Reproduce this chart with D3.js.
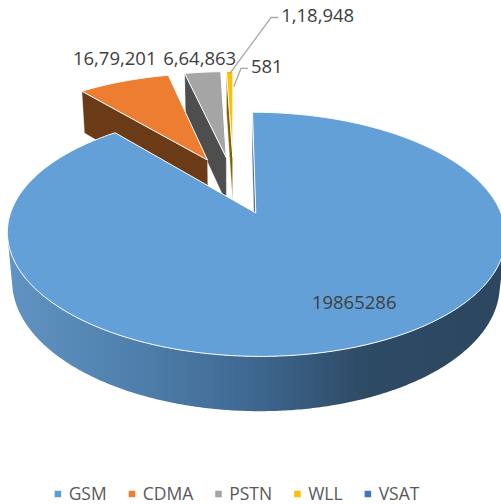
<!DOCTYPE html>
<html>
<head>
<meta charset="utf-8">
<script src="https://cdn.jsdelivr.net/npm/d3@7"></script>
<style>
  body { margin: 0; background: #fff; }
  svg { display: block; }
</style>
</head>
<body>
<svg id="chart" width="501" height="504"></svg>
<script>
  var width = 501, height = 504

  // data
  var categories = ["GSM", "CDMA", "PSTN", "WLL", "VSAT"]
  var values = [19865286, 1679201, 664863, 118948, 581]
  var labelText = ["19865286", "16,79,201", "6,64,863", "1,18,948", "581"]
  var topColors = ["#62a0d7", "#ed7d31", "#a5a5a5", "#ffc000", "#4472c4"]
  var legendColors = ["#5b9bd5", "#ed7d31", "#a5a5a5", "#ffc000", "#4472c4"]
  var sideColors = ["#3d6a93", "#6b3b17", "#4e4e4e", "#7f6000", "#22395f"]

  // 3d look (all tuned by eye)
  var cx = 233.8, cy = 184.8
  var R = 235, depth = 54, explode = 62
  var tilt = Math.asin(0.4625), dist = 1242
  var sinP = Math.sin(tilt), cosP = Math.cos(tilt)
  var cam = [0, dist * sinP, -dist * cosP]

  // label layout: outside labels sit relative to the rim middle of their slice
  var labelDx = [0, -9, -3, 88, 33]
  var labelDy = [0, -23, -14, -56, -5]
  var leaderR = [0, 0, 0, 0.97, 0.8]

  function proj(p) {
    var X = p[0], Y = p[1], Z = p[2]
    var w = Z * cosP - Y * sinP
    var s = dist / (dist + w)
    return [cx + X * s, cy - (Z * sinP + Y * cosP) * s]
  }

  var pie = d3.pie().sort(null).value(function(d) { return d })
  var arcs = pie(values).map(function(a, i) {
    var mid = (a.startAngle + a.endAngle) / 2
    a.i = i
    a.mid = mid
    a.ox = explode * Math.sin(mid)
    a.oz = explode * Math.cos(mid)
    return a
  })

  function pt(a, r, th, Y) {
    return [a.ox + r * Math.sin(th), Y, a.oz + r * Math.cos(th)]
  }
  function facing(p, n) {
    return (cam[0] - p[0]) * n[0] + (cam[1] - p[1]) * n[1] + (cam[2] - p[2]) * n[2] > 0
  }
  function arcAngles(a) {
    var n = Math.max(2, Math.ceil((a.endAngle - a.startAngle) / (Math.PI / 360)))
    return d3.range(n + 1).map(function(k) {
      return a.startAngle + (a.endAngle - a.startAngle) * k / n
    })
  }
  var line = d3.line()
  function poly(pts) { return line(pts.map(proj)) + "Z" }

  var svg = d3.select("#chart")
  var defs = svg.append("defs")
  var grad = defs.append("linearGradient")
    .attr("id", "gsmSide")
    .attr("gradientUnits", "userSpaceOnUse")
    .attr("x1", 10).attr("x2", 501).attr("y1", 0).attr("y2", 0)
  grad.append("stop").attr("offset", "0%").attr("stop-color", "#6193c2")
  grad.append("stop").attr("offset", "25%").attr("stop-color", "#4f80ad")
  grad.append("stop").attr("offset", "50%").attr("stop-color", "#3e6790")
  grad.append("stop").attr("offset", "72%").attr("stop-color", "#2e4b66")
  grad.append("stop").attr("offset", "100%").attr("stop-color", "#2c475f")

  var g = svg.append("g")

  // far slices first
  var order = arcs.slice().sort(function(a, b) { return Math.cos(b.mid) - Math.cos(a.mid) })

  order.forEach(function(a) {
    var sg = g.append("g").attr("class", "slice " + categories[a.i])
    var apexT = [a.ox, 0, a.oz], apexB = [a.ox, -depth, a.oz]

    // radial faces
    var faces = [
      { th: a.startAngle, n: [-Math.cos(a.startAngle), 0, Math.sin(a.startAngle)] },
      { th: a.endAngle, n: [Math.cos(a.endAngle), 0, -Math.sin(a.endAngle)] }
    ]
    faces.forEach(function(f) {
      if (!facing(apexT, f.n)) return
      sg.append("path")
        .attr("d", poly([apexT, pt(a, R, f.th, 0), pt(a, R, f.th, -depth), apexB]))
        .attr("fill", sideColors[a.i])
        .attr("stroke", "#fff").attr("stroke-opacity", 0.5).attr("stroke-width", 0.6)
    })

    // outer rim, only the part turned to the viewer
    var ths = arcAngles(a)
    var runs = [], cur = null
    ths.forEach(function(th) {
      var p = pt(a, R, th, 0)
      var ok = facing(p, [Math.sin(th), 0, Math.cos(th)])
      if (ok) { if (!cur) { cur = []; runs.push(cur) } cur.push(th) } else cur = null
    })
    runs.forEach(function(run) {
      if (run.length < 2) return
      var top = run.map(function(th) { return pt(a, R, th, 0) })
      var bot = run.slice().reverse().map(function(th) { return pt(a, R, th, -depth) })
      sg.append("path")
        .attr("d", poly(top.concat(bot)))
        .attr("fill", a.i === 0 ? "url(#gsmSide)" : sideColors[a.i])
    })

    // top face
    var topPts = [apexT].concat(ths.map(function(th) { return pt(a, R, th, 0) }))
    sg.append("path")
      .attr("d", poly(topPts))
      .attr("fill", topColors[a.i])
      .attr("stroke", "#fff").attr("stroke-width", 1).attr("stroke-linejoin", "round")
  })

  // data labels
  var lab = svg.append("g")
    .attr("font-family", "'Open Sans', 'Liberation Sans', sans-serif")
    .attr("font-size", 18.5)
    .attr("fill", "#404040")

  arcs.forEach(function(a) {
    if (a.i === 0) {
      // inside label on the big slice
      var p = proj(pt(a, 0.75 * R, 2.665, 0))
      lab.append("text").attr("x", p[0]).attr("y", p[1])
        .attr("text-anchor", "middle").attr("dy", "0.35em")
        .text(labelText[a.i])
      return
    }
    var anchor = proj(pt(a, R, a.mid, 0))
    var lx = anchor[0] + labelDx[a.i], ly = anchor[1] + labelDy[a.i]
    var t = lab.append("text").attr("x", lx).attr("y", ly)
      .attr("text-anchor", "middle").attr("dy", "0.35em")
      .text(labelText[a.i])
    if (leaderR[a.i]) {
      var w = t.node().getComputedTextLength()
      var end = proj(pt(a, leaderR[a.i] * R, a.mid, 0))
      var x0 = lx - w / 2 - 3
      svg.append("path")
        .attr("d", line([[x0, ly + 2], [x0 - 7, ly + 2], end]))
        .attr("fill", "none").attr("stroke", "#a6a6a6").attr("stroke-width", 1.3)
    }
  })

  // legend
  var legend = svg.append("g")
    .attr("font-family", "'Open Sans', 'Liberation Sans', sans-serif")
    .attr("font-size", 17.5)
    .attr("fill", "#595959")
  var lx = 0
  var items = categories.map(function(c, i) {
    var it = legend.append("g")
    it.append("rect").attr("width", 6.5).attr("height", 6.5).attr("y", -3.25)
      .attr("fill", legendColors[i])
    var t = it.append("text").attr("x", 14).attr("dy", "0.35em").text(c)
    var w = 14 + t.node().getComputedTextLength()
    it.attr("transform", "translate(" + lx + ",0)")
    lx += w + 22
    return it
  })
  var legW = lx - 22
  legend.attr("transform", "translate(" + (237 - legW / 2) + ",494)")
</script>
</body>
</html>
